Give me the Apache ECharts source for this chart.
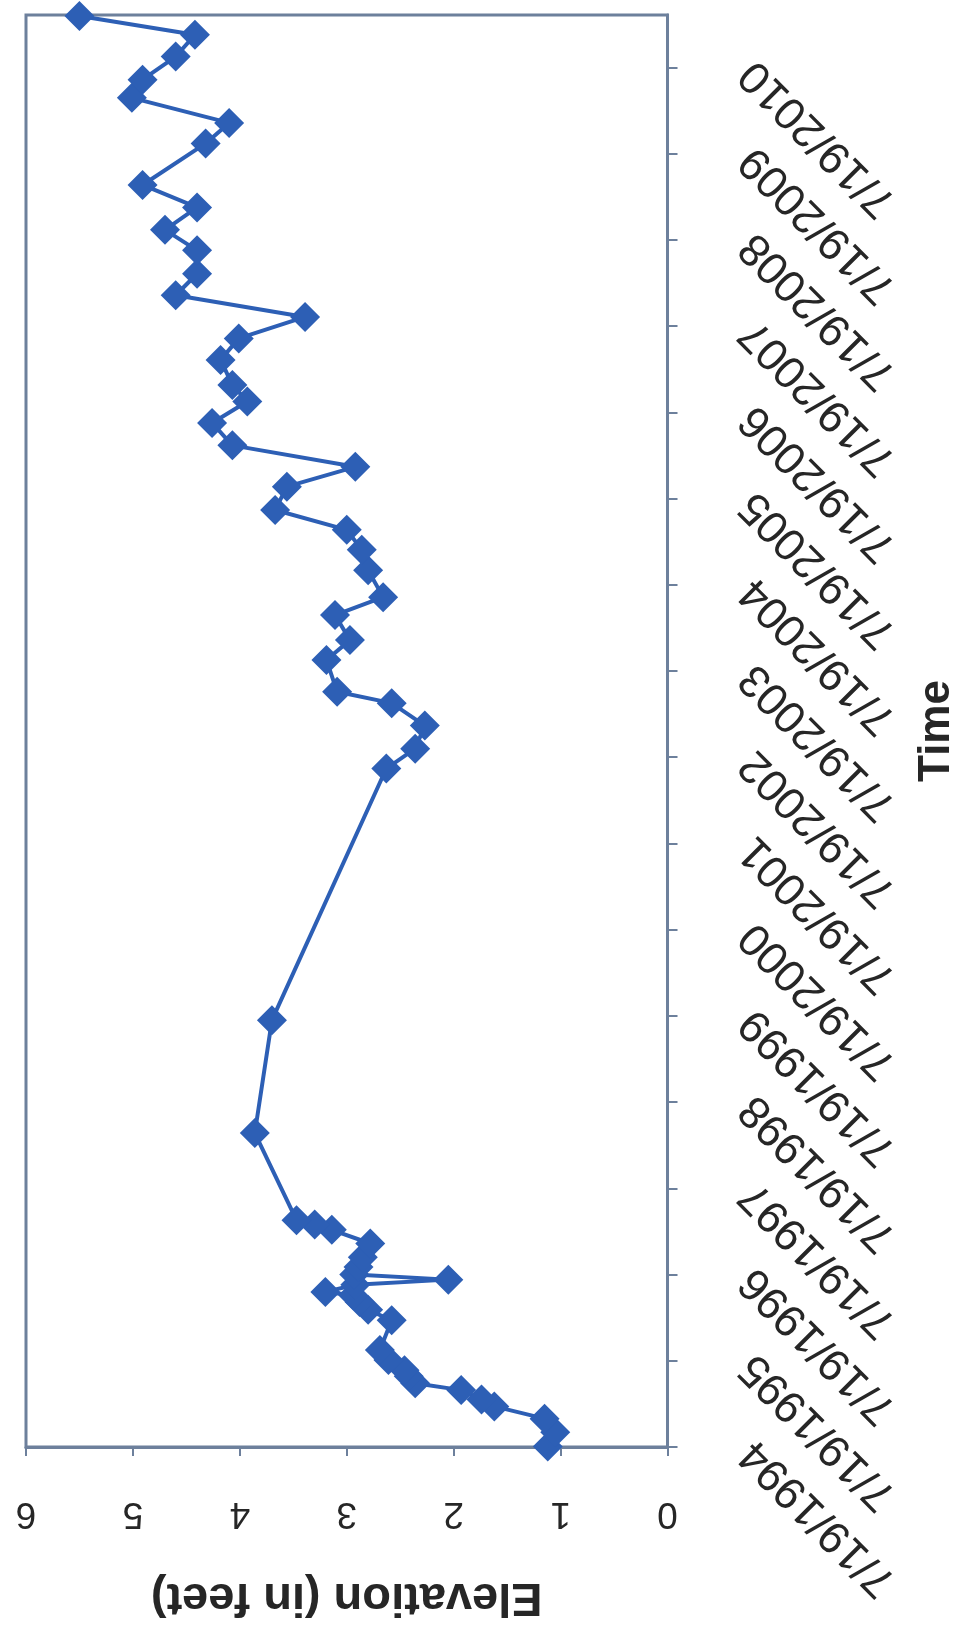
<!DOCTYPE html>
<html>
<head>
<meta charset="utf-8">
<script src="https://cdn.jsdelivr.net/npm/echarts@6/dist/echarts.min.js"></script>
<style>
html,body{margin:0;padding:0;background:#ffffff;}
#c{width:967px;height:1647px;}
</style>
</head>
<body>
<div id="c"></div>
<script>
// Sample dates (ISO) and elevations (feet)
const dates = [
  '1994-07-21','1994-09-19','1994-11-16','1995-01-07','1995-02-05','1995-03-17','1995-04-15','1995-05-15',
  '1995-06-09','1995-07-23','1995-09-03','1996-01-07','1996-02-20','1996-03-24','1996-04-22','1996-05-06',
  '1996-06-05','1996-06-27','1996-07-19','1996-08-20','1996-09-30','1996-11-27','1997-01-24','1997-02-15',
  '1997-03-06','1998-03-10','1999-07-01','2002-06-01','2002-08-24','2002-11-30','2003-03-05','2003-04-22',
  '2003-09-04','2003-11-27','2004-03-12','2004-05-27','2004-09-18','2004-12-14','2005-03-08','2005-05-31',
  '2005-09-07','2005-11-30','2006-03-01','2006-06-04','2006-09-03','2006-11-12','2007-02-26','2007-05-28',
  '2007-08-27','2007-11-27','2008-02-26','2008-06-04','2008-08-30','2008-12-03','2009-03-08','2009-08-31',
  '2009-11-26','2010-03-12','2010-05-28','2010-09-03','2010-12-04','2011-02-22'
];
const elevations = [
  1.12, 1.05, 1.15, 1.62, 1.74, 1.93, 2.36, 2.42,
  2.46, 2.61, 2.69, 2.58, 2.80, 2.88, 2.94, 3.20,
  2.92, 2.05, 2.93, 2.89, 2.85, 2.78, 3.14, 3.30,
  3.47, 3.86, 3.70, 2.63, 2.36, 2.27, 2.58, 3.09,
  3.19, 2.97, 3.11, 2.66, 2.80, 2.86, 3.00, 3.67,
  3.56, 2.92, 4.07, 4.26, 3.93, 4.07, 4.18, 4.01,
  3.39, 4.60, 4.40, 4.40, 4.70, 4.40, 4.91, 4.32,
  4.10, 5.01, 4.91, 4.60, 4.42, 5.50
];
// Time-axis tick labels (one per year, starting 7/19/1994)
const timeTickLabels = [
  '7/19/1994','7/19/1995','7/19/1996','7/19/1997','7/19/1998','7/19/1999','7/19/2000','7/19/2001',
  '7/19/2002','7/19/2003','7/19/2004','7/19/2005','7/19/2006','7/19/2007','7/19/2008','7/19/2009','7/19/2010'
];
const elevationTicks = [0, 1, 2, 3, 4, 5, 6];
const axisStartDate = '1994-07-19';
const axisEndDate = '2011-02-26';

const YEAR_MS = 365.25 * 86400000;
function toUTC(d) { const p = d.split('-').map(Number); return Date.UTC(p[0], p[1] - 1, p[2]); }
const baseMs = toUTC(axisStartDate);
function yearsSince(d) { return (toUTC(d) - baseMs) / YEAR_MS; }

const points = dates.map((d, i) => [elevations[i], yearsSince(d)]);
const tickPositions = timeTickLabels.map((_, i) => i);

const frameColor = '#6d809c';
const textColor = '#262626';
const font = 'Arial, "Liberation Sans", Helvetica, sans-serif';

const chart = echarts.init(document.getElementById('c'), null, { renderer: 'canvas' });
chart.setOption({
  backgroundColor: '#ffffff',
  animation: false,
  grid: {
    left: 26, right: 297, top: 15, bottom: 200,
    show: true, borderColor: frameColor, borderWidth: 3, backgroundColor: 'transparent'
  },
  xAxis: {
    type: 'value', inverse: true, position: 'bottom',
    min: elevationTicks[0], max: elevationTicks[elevationTicks.length - 1], interval: 1,
    axisLine: { show: true, onZero: false, lineStyle: { color: frameColor, width: 3 } },
    axisTick: { show: true, length: 9, lineStyle: { color: frameColor, width: 2 } },
    splitLine: { show: false },
    axisLabel: { rotate: 180, margin: 48, fontSize: 37, color: textColor, fontFamily: font },
    name: 'Elevation (in feet)', nameLocation: 'middle', nameRotate: 180, nameGap: 126,
    nameTextStyle: { fontSize: 47, fontWeight: 'bold', color: textColor, fontFamily: font }
  },
  yAxis: {
    type: 'value', position: 'right',
    min: 0, max: yearsSince(axisEndDate),
    axisLine: { show: true, onZero: false, lineStyle: { color: frameColor, width: 3 } },
    axisTick: { show: true, length: 10, customValues: tickPositions, lineStyle: { color: frameColor, width: 2 } },
    splitLine: { show: false },
    axisLabel: {
      customValues: tickPositions, rotate: 135, margin: 80, fontSize: 45,
      color: textColor, fontFamily: font,
      formatter: function (v) { return timeTickLabels[Math.round(v)]; }
    },
    name: 'Time', nameLocation: 'middle', nameRotate: 90, nameGap: 244,
    nameTextStyle: { fontSize: 44, fontWeight: 'bold', color: textColor, fontFamily: font }
  },
  series: [{
    type: 'line',
    data: points,
    symbol: 'diamond', symbolSize: 30,
    lineStyle: { color: '#2d5fb5', width: 4 },
    itemStyle: { color: '#2d5fb5' },
    clip: false
  }]
});
</script>
</body>
</html>
